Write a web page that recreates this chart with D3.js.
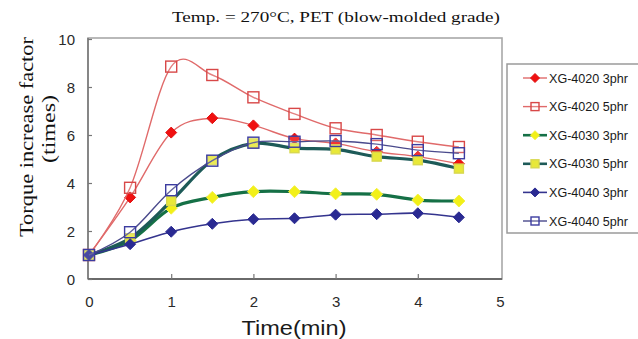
<!DOCTYPE html>
<html><head><meta charset="utf-8">
<script src="https://cdn.jsdelivr.net/npm/d3@7/dist/d3.min.js"></script>
<style>html,body{margin:0;padding:0;background:#fff;}svg{display:block;}</style>
</head><body>
<svg id="c" width="638" height="339"></svg>
<script>
const times = [0, 0.5, 1, 1.5, 2, 2.5, 3, 3.5, 4, 4.5];
const seriesNames = ["XG-4020 3phr","XG-4020 5phr","XG-4030 3phr","XG-4030 5phr","XG-4040 3phr","XG-4040 5phr"];
const xg4020_3 = [1, 3.4, 6.1, 6.7, 6.4, 5.85, 5.65, 5.3, 5.1, 4.8];
const xg4020_5 = [1, 3.8, 8.85, 8.5, 7.57, 6.88, 6.28, 6.0, 5.72, 5.5];
const xg4030_3 = [1, 1.6, 2.95, 3.4, 3.64, 3.64, 3.55, 3.53, 3.29, 3.25];
const xg4030_5 = [1, 1.7, 3.25, 4.95, 5.65, 5.45, 5.4, 5.1, 4.95, 4.6];
const xg4040_3 = [1, 1.45, 1.97, 2.3, 2.49, 2.53, 2.68, 2.7, 2.74, 2.57];
const xg4040_5 = [1, 1.95, 3.7, 4.93, 5.68, 5.72, 5.75, 5.62, 5.37, 5.24];
const xTicks = [0, 1, 2, 3, 4, 5];
const yTicks = [0, 2, 4, 6, 8, 10];
const titleText = "Temp. = 270°C, PET (blow-molded grade)";
const yLabel1 = "Torque increase factor";
const yLabel2 = "(times)";
const xLabel = "Time(min)";

const styles = [
  {line:"#e06a6a", lw:1.4, shape:"diamond", fill:"#f01010", stroke:"#e01010", size:11},
  {line:"#e06a6a", lw:1.4, shape:"square", fill:"none", stroke:"#d84848", size:11},
  {line:"#157046", lw:3.2, shape:"diamond", fill:"#f2f018", stroke:"#f4f040", size:12},
  {line:"#1d5a58", lw:3.2, shape:"square", fill:"#e8e838", stroke:"#d8d850", size:9},
  {line:"#34348e", lw:1.6, shape:"diamond", fill:"#2a2a92", stroke:"#2a2a92", size:11},
  {line:"#4a4a8c", lw:1.4, shape:"square", fill:"none", stroke:"#3c3ca0", size:11}
];
const allSeries = [xg4020_3, xg4020_5, xg4030_3, xg4030_5, xg4040_3, xg4040_5];

const svg = d3.select("#c");
const x = d3.scaleLinear().domain([0,5]).range([89,500]);
const y = d3.scaleLinear().domain([0,10]).range([279,39]);

// frame
svg.append("rect").attr("x",88).attr("y",38).attr("width",414).attr("height",241)
  .attr("fill","none").attr("stroke","#a8a8a8").attr("stroke-width",1.6);
svg.append("line").attr("x1",88).attr("x2",88).attr("y1",38).attr("y2",279).attr("stroke","#7a7a7a").attr("stroke-width",1.6);
svg.append("line").attr("x1",88).attr("x2",502).attr("y1",279).attr("y2",279).attr("stroke","#6a6a6a").attr("stroke-width",1.8);

// axes
const yAxis = d3.axisLeft(y).tickValues(yTicks).tickSize(-4).tickPadding(13).tickFormat(d3.format("d"));
const gy = svg.append("g").attr("transform","translate(88,0)").call(yAxis);
gy.select(".domain").remove();
gy.selectAll(".tick line").attr("stroke","#777").attr("stroke-width",1.2);
gy.selectAll(".tick text").attr("font-family","Liberation Sans, Arial, sans-serif").attr("font-size",15).attr("fill","#2a2a2a").attr("dy","0.35em");

const xAxis = d3.axisBottom(x).tickValues(xTicks).tickSize(-5).tickPadding(17).tickFormat(d3.format("d"));
const gx = svg.append("g").attr("transform","translate(0,279)").call(xAxis);
gx.select(".domain").remove();
gx.selectAll(".tick line").attr("stroke","#777").attr("stroke-width",1.2).filter(d=>d===0||d===5).remove();
gx.selectAll(".tick text").attr("font-family","Liberation Sans, Arial, sans-serif").attr("font-size",15).attr("fill","#2a2a2a");

// lines
const lineGen = d3.line().x(d=>x(d[0])).y(d=>y(d[1])).curve(d3.curveCatmullRom.alpha(0));
function marker(g, shape, cx, cy, st){
  const s = st.size;
  if(shape==="diamond"){
    const h = s/2;
    g.append("path").attr("d",`M${cx},${cy-h}L${cx+h},${cy}L${cx},${cy+h}L${cx-h},${cy}Z`)
      .attr("fill",st.fill).attr("stroke",st.stroke).attr("stroke-width",1);
  } else {
    g.append("rect").attr("x",cx-s/2).attr("y",cy-s/2).attr("width",s).attr("height",s)
      .attr("fill",st.fill==="none"?"rgba(255,255,255,0.15)":st.fill).attr("stroke",st.stroke).attr("stroke-width",1.4);
  }
}
allSeries.forEach((vals,i)=>{
  const st = styles[i];
  const pts = times.map((t,j)=>[t, vals[j]]);
  const g = svg.append("g");
  g.append("path").attr("d",lineGen(pts)).attr("fill","none").attr("stroke",st.line).attr("stroke-width",st.lw);
  pts.forEach(p=>marker(g, st.shape, x(p[0]), y(p[1]), st));
});

// legend
svg.append("rect").attr("x",507).attr("y",64).attr("width",140).attr("height",169)
  .attr("fill","#fff").attr("stroke","#9a9a9a").attr("stroke-width",1.5);
seriesNames.forEach((name,i)=>{
  const st = styles[i];
  const ly = 78 + i*28.6;
  const g = svg.append("g");
  g.append("line").attr("x1",523).attr("x2",547).attr("y1",ly).attr("y2",ly).attr("stroke",st.line).attr("stroke-width",Math.min(st.lw,2.6));
  marker(g, st.shape, 535, ly, Object.assign({}, st, {size: st.shape==="diamond"? 9 : 8}));
  g.append("text").attr("x",549).attr("y",ly).attr("dy","0.36em")
    .attr("font-family","Liberation Sans, Arial, sans-serif").attr("font-size",12.5).attr("fill","#1a1a1a")
    .attr("textLength",79).attr("lengthAdjust","spacingAndGlyphs").text(name);
});

// title
svg.append("text").attr("x",172).attr("y",22).attr("font-family","Liberation Serif, Times New Roman, serif").attr("font-size",15.5)
  .attr("fill","#111").attr("textLength",328).attr("lengthAdjust","spacingAndGlyphs").text(titleText);

// y label
svg.append("text").attr("transform","translate(33,137) rotate(-90)").attr("text-anchor","middle")
  .attr("font-family","Liberation Serif, Times New Roman, serif").attr("font-size",19.5).attr("fill","#111")
  .attr("textLength",200).attr("lengthAdjust","spacingAndGlyphs").text(yLabel1);
svg.append("text").attr("transform","translate(55,129) rotate(-90)").attr("text-anchor","middle")
  .attr("font-family","Liberation Serif, Times New Roman, serif").attr("font-size",19.5).attr("fill","#111")
  .attr("textLength",68).attr("lengthAdjust","spacingAndGlyphs").text(yLabel2);

// x label
svg.append("text").attr("x",294).attr("y",335).attr("text-anchor","middle")
  .attr("font-family","Liberation Sans, Arial, sans-serif").attr("font-size",20).attr("fill","#1a1a1a")
  .attr("textLength",105).attr("lengthAdjust","spacingAndGlyphs").text(xLabel);
</script>
</body></html>
